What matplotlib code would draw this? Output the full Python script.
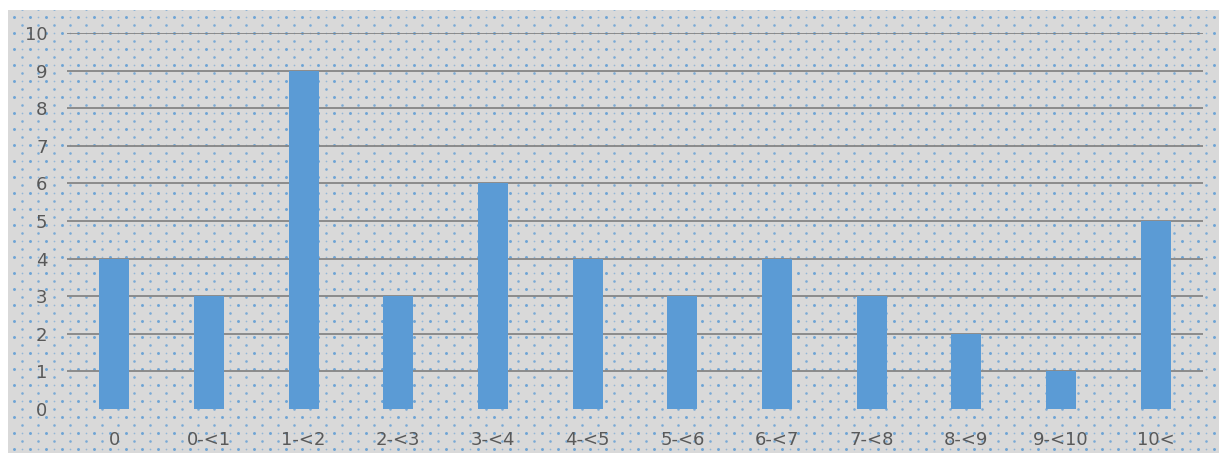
import numpy as np
import matplotlib.pyplot as plt

categories = ['0', '0-<1', '1-<2', '2-<3', '3-<4', '4-<5', '5-<6', '6-<7', '7-<8', '8-<9', '9-<10', '10<']
counts = [4, 3, 9, 3, 6, 4, 3, 4, 3, 2, 1, 5]
y_ticks = list(range(0, 11))

W, H = 1219, 453
fig = plt.figure(figsize=(W / 100, H / 100), dpi=100)
fig.patch.set_facecolor('white')

# grey panel with a dotted fill, drawn in pixel coordinates
bg = fig.add_axes([8 / W, 0, 1 - 8 / W, 1 - 10 / H])
bg.set_xlim(8, W)
bg.set_ylim(0, H - 10)
bg.set_facecolor('#d9d9d9')
bg.axis('off')
bg.add_patch(plt.Rectangle((8, 0), W, H, color='#d9d9d9', zorder=0))
gx, gy = np.meshgrid(np.arange(14, W, 16), np.arange(4, H - 10, 16))
bg.scatter(gx.ravel(), gy.ravel(), s=4.5, color='#5b9bd5', alpha=0.85, lw=0)
bg.scatter(gx.ravel() + 8, gy.ravel() + 8, s=3.5, color='#5b9bd5', alpha=0.75, lw=0)
bg.scatter(gx.ravel() + 8, gy.ravel(), s=1.5, color='#5b9bd5', alpha=0.55, lw=0)

ax = fig.add_axes([67 / W, 1 - 409 / H, (1203 - 67) / W, (409 - 33) / H])
ax.patch.set_alpha(0)
x = np.arange(len(categories))
ax.bar(x, counts, width=0.32, color='#5b9bd5', zorder=3)
ax.set_xlim(-0.5, len(categories) - 0.5)
ax.set_ylim(0, 10)
ax.set_yticks(y_ticks)
ax.set_xticks(x)
ax.set_xticklabels(categories)
for y in y_ticks[1:]:
    ax.axhline(y, color='#858585', lw=1.3, zorder=1)
for s in ax.spines.values():
    s.set_visible(False)
ax.tick_params(length=0, labelsize=13, labelcolor='#595959')
ax.tick_params(axis='y', pad=14)
ax.tick_params(axis='x', pad=16)

fig.savefig('out.png', dpi=100)
